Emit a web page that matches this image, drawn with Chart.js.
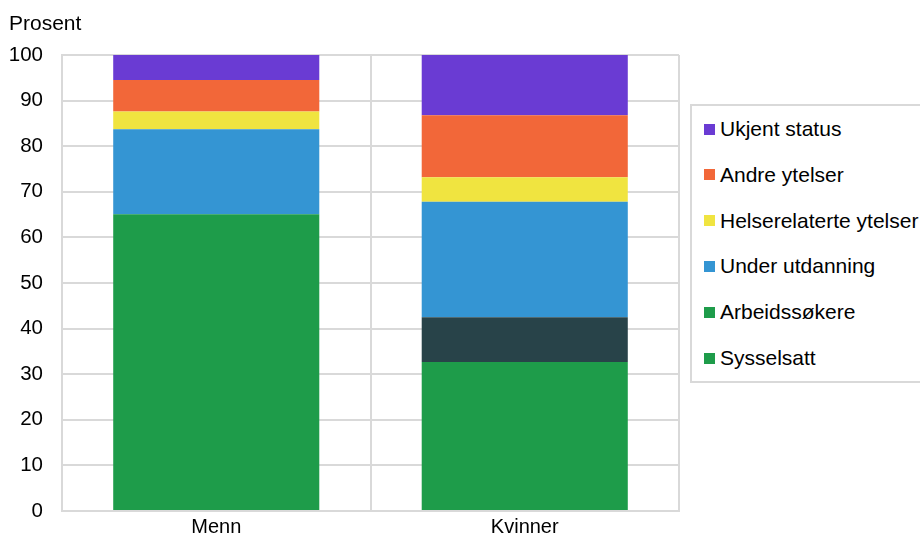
<!DOCTYPE html>
<html>
<head>
<meta charset="utf-8">
<script src="https://cdn.jsdelivr.net/npm/chart.js@4"></script>
<style>
  body { margin: 0; background: #fff; font-family: "Liberation Sans", Arial, sans-serif; }
  #wrap { position: relative; width: 920px; height: 535px; overflow: hidden; }
  #legend {
    position: absolute; left: 690px; top: 104px; width: 250px; height: 275px;
    border: 2px solid #d9d9d9; background: #fff; box-sizing: content-box;
  }
  .item { position: absolute; left: 12px; height: 24px; display: flex; align-items: center;
    font-size: 21px; color: #000; white-space: nowrap; }
  .item span.box { width: 11px; height: 11px; margin-right: 5px; display: inline-block; }
</style>
</head>
<body>
<div id="wrap">
  <canvas id="chart" width="920" height="535"></canvas>
  <div id="legend"></div>
</div>
<script>
// Kategorier og verdier (prosent), fra bunn til topp i stabelen
const kategorier = ['Menn', 'Kvinner'];
const serier = ['Sysselsatt', 'Arbeidssøkere', 'Under utdanning', 'Helserelaterte ytelser', 'Andre ytelser', 'Ukjent status'];

const sysselsatt = [55.9, 32.7];
const arbeidssokere = [9.2, 9.8];
const underUtdanning = [18.6, 25.3];
const helse = [3.9, 5.4];
const andreYtelser = [6.9, 13.6];
const ukjent = [5.5, 13.2];

const yTicks = [0, 10, 20, 30, 40, 50, 60, 70, 80, 90, 100];

const farger = {
  sysselsatt: '#1e9c4a',
  arbeidssokere: ['#1e9c4a', '#284349'],
  under: '#3495d3',
  helse: '#f0e440',
  andre: '#f26739',
  ukjent: '#6a3bd3'
};

const verdier = [sysselsatt, arbeidssokere, underUtdanning, helse, andreYtelser, ukjent];
const fargeListe = [farger.sysselsatt, farger.arbeidssokere, farger.under, farger.helse, farger.andre, farger.ukjent];

const datasets = serier.map((navn, i) => ({
  label: navn,
  data: verdier[i],
  backgroundColor: fargeListe[i],
  borderWidth: 0,
  categoryPercentage: 1,
  barPercentage: 0.668
}));

// Tekst "Prosent" øverst til venstre
const prosentTekst = {
  id: 'prosentTekst',
  afterDraw(chart) {
    const c = chart.ctx;
    c.save();
    c.font = '21px "Liberation Sans", Arial, sans-serif';
    c.fillStyle = '#000';
    c.textBaseline = 'alphabetic';
    c.textAlign = 'left';
    c.fillText('Prosent', 9, 30);
    c.restore();
  }
};

const ctx = document.getElementById('chart').getContext('2d');
new Chart(ctx, {
  type: 'bar',
  data: { labels: kategorier, datasets },
  plugins: [prosentTekst],
  options: {
    responsive: false,
    animation: false,
    layout: { padding: { top: 55, right: 241, bottom: 0, left: 0 } },
    plugins: {
      legend: { display: false },
      tooltip: { enabled: false }
    },
    scales: {
      x: {
        stacked: true,
        offset: true,
        afterFit(scale) { scale.height = 24; },
        grid: { display: true, offset: true, color: '#d9d9d9', lineWidth: 2, drawTicks: false },
        border: { display: true, color: '#d9d9d9', width: 2 },
        ticks: { color: '#000', padding: 4, font: { size: 20, family: '"Liberation Sans", Arial, sans-serif' } }
      },
      y: {
        stacked: true,
        min: 0,
        max: 100,
        afterFit(scale) {
          scale.width = 62;
          scale.paddingTop = 0;
          scale.paddingBottom = 0;
        },
        afterBuildTicks(scale) { scale.ticks = yTicks.map(v => ({ value: v })); },
        grid: { color: '#d9d9d9', lineWidth: 2, drawTicks: false },
        border: { display: true, color: '#d9d9d9', width: 2 },
        ticks: { color: '#000', padding: 19, font: { size: 20.5, family: '"Liberation Sans", Arial, sans-serif' } }
      }
    }
  }
});

// Legende (omvendt rekkefølge som i figuren)
const legend = document.getElementById('legend');
const legendFarger = [farger.sysselsatt, farger.arbeidssokere[0], farger.under, farger.helse, farger.andre, farger.ukjent];
serier.slice().reverse().forEach((navn, i) => {
  const idx = serier.length - 1 - i;
  const div = document.createElement('div');
  div.className = 'item';
  div.style.top = (11 + i * 45.8) + 'px';
  div.innerHTML = `<span class="box" style="background:${legendFarger[idx]}"></span>${navn}`;
  legend.appendChild(div);
});
</script>
</body>
</html>
